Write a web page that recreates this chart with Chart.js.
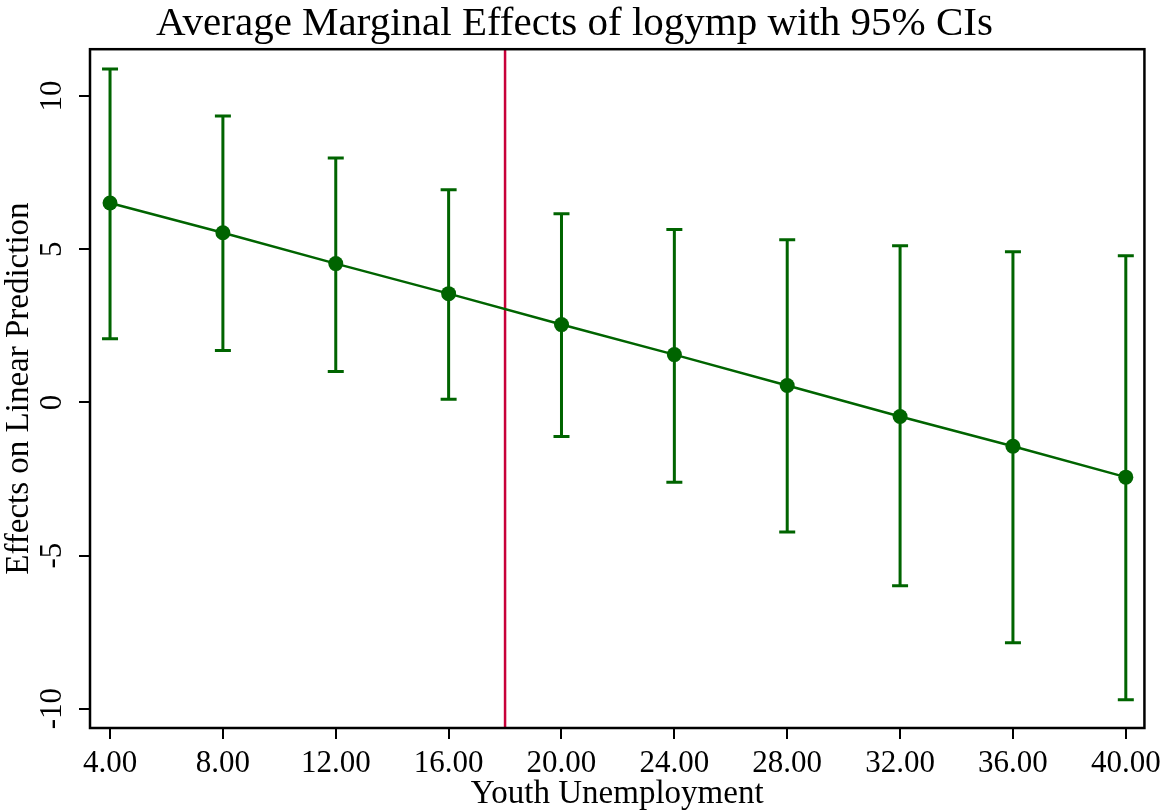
<!DOCTYPE html>
<html>
<head>
<meta charset="utf-8">
<script src="https://cdn.jsdelivr.net/npm/chart.js@4.4.0/dist/chart.umd.min.js"></script>
<style>
html, body { margin: 0; padding: 0; background: #fff; }
#wrap { width: 1167px; height: 810px; }
</style>
</head>
<body>
<div id="wrap"><canvas id="meChart"></canvas></div>
<script>
// values
const youthUnemp = [4, 8, 12, 16, 20, 24, 28, 32, 36, 40];
const margEffect = [6.51, 5.54, 4.53, 3.55, 2.54, 1.56, 0.55, -0.46, -1.43, -2.44];
const ciUpper = [10.88, 9.35, 7.98, 6.94, 6.16, 5.64, 5.31, 5.11, 4.92, 4.79];
const ciLower = [2.08, 1.69, 1.01, 0.10, -1.11, -2.61, -4.23, -5.99, -7.85, -9.71];
const xTicks = [4, 8, 12, 16, 20, 24, 28, 32, 36, 40];
const yTicks = [-10, -5, 0, 5, 10];
const thresholdX = 18;

const green = '#006400';
const red = '#c8003a';
const serif = "'Liberation Serif', 'DejaVu Serif', serif";

// CI whiskers, threshold line and the box round the plot
const extras = {
    id: 'extras',
    beforeDatasetsDraw(chart) {
        const { ctx, chartArea, scales: { x, y } } = chart;
        ctx.save();
        ctx.strokeStyle = green;
        ctx.lineWidth = 3;
        youthUnemp.forEach((u, i) => {
            const px = x.getPixelForValue(u);
            const top = y.getPixelForValue(ciUpper[i]);
            const bot = y.getPixelForValue(ciLower[i]);
            ctx.beginPath();
            ctx.moveTo(px, top); ctx.lineTo(px, bot);
            ctx.moveTo(px - 8, top); ctx.lineTo(px + 8, top);
            ctx.moveTo(px - 8, bot); ctx.lineTo(px + 8, bot);
            ctx.stroke();
        });
        const tx = x.getPixelForValue(thresholdX);
        ctx.strokeStyle = red;
        ctx.lineWidth = 2.5;
        ctx.beginPath();
        ctx.moveTo(tx, chartArea.top);
        ctx.lineTo(tx, chartArea.bottom);
        ctx.stroke();
        ctx.restore();
    },
    afterDraw(chart) {
        const { ctx, chartArea } = chart;
        ctx.save();
        ctx.strokeStyle = '#000';
        ctx.lineWidth = 2.5;
        ctx.strokeRect(chartArea.left, chartArea.top,
            chartArea.right - chartArea.left, chartArea.bottom - chartArea.top);
        ctx.restore();
    }
};

const ctx = document.getElementById('meChart').getContext('2d');
const chart = new Chart(ctx, {
    type: 'line',
    data: {
        datasets: [{
            data: youthUnemp.map((u, i) => ({ x: u, y: margEffect[i] })),
            borderColor: green,
            backgroundColor: green,
            borderWidth: 2.5,
            pointRadius: 7.5,
            pointBorderWidth: 0,
            tension: 0
        }]
    },
    options: {
        responsive: true,
        maintainAspectRatio: false,
        animation: false,
        layout: { padding: { left: 0, right: 18, top: 0, bottom: 0 } },
        plugins: {
            legend: { display: false },
            tooltip: { enabled: false },
            title: {
                display: true,
                text: 'Average Marginal Effects of logymp with 95% CIs',
                color: '#000',
                font: { family: serif, size: 41, weight: 'normal' },
                padding: { top: 0, bottom: 0 },
                fullSize: true
            }
        },
        scales: {
            x: {
                type: 'linear',
                min: 3.29,
                max: 40.66,
                afterBuildTicks: s => { s.ticks = xTicks.map(v => ({ value: v })); },
                afterFit: s => { s.height = 82; },
                border: { display: false },
                grid: { drawOnChartArea: false, drawTicks: true, tickLength: 11, color: '#000', lineWidth: 2 },
                ticks: {
                    color: '#000',
                    font: { family: serif, size: 31 },
                    padding: 6,
                    maxRotation: 0,
                    autoSkip: false,
                    callback: v => v.toFixed(2)
                },
                title: {
                    display: true,
                    text: 'Youth Unemployment',
                    color: '#000',
                    font: { family: serif, size: 33 },
                    padding: { top: 0, bottom: -4 }
                }
            },
            y: {
                min: -10.63,
                max: 11.53,
                afterBuildTicks: s => { s.ticks = yTicks.map(v => ({ value: v })); },
                afterFit: s => { s.width = 90; },
                border: { display: false },
                grid: { drawOnChartArea: false, drawTicks: true, tickLength: 11, color: '#000', lineWidth: 2 },
                ticks: {
                    color: '#000',
                    font: { family: serif, size: 31 },
                    padding: 5,
                    minRotation: 90,
                    maxRotation: 90,
                    crossAlign: 'center',
                    autoSkip: false
                },
                title: {
                    display: true,
                    text: 'Effects on Linear Prediction',
                    color: '#000',
                    font: { family: serif, size: 33 },
                    padding: { top: 0, bottom: 0 }
                }
            }
        }
    },
    plugins: [extras]
});
</script>
</body>
</html>
